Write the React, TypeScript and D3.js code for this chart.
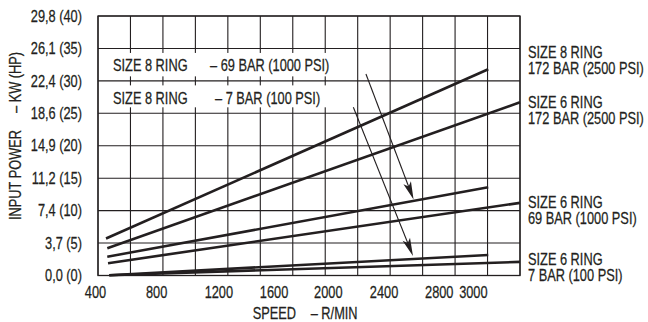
import React from 'react';
import * as d3 from 'd3';

// ---------- data ----------
const hpTicks = [0, 5, 10, 15, 20, 25, 30, 35, 40];
const yTickLabels = ['0,0 (0)', '3,7 (5)', '7,4 (10)', '11,2 (15)', '14,9 (20)', '18,6 (25)', '22,4 (30)', '26,1 (35)', '29,8 (40)'];
const rpmTicks = [400, 800, 1200, 1600, 2000, 2400, 2800, 3000];
const rpmTickLabels = ['400', '800', '1200', '1600', '2000', '2400', '2800', '3000'];

// each series: speed (r/min) and input power (HP) at the two ends of the straight line
const size8Bar172Rpm = [446, 3118];
const size8Bar172Hp = [5.7, 31.8];
const size6Bar172Rpm = [455, 3340];
const size6Bar172Hp = [4.2, 26.7];
const size8Bar69Rpm = [455, 3118];
const size8Bar69Hp = [2.9, 13.6];
const size6Bar69Rpm = [460, 3340];
const size6Bar69Hp = [1.9, 11.2];
const size8Bar7Rpm = [469, 3118];
const size8Bar7Hp = [0.05, 3.15];
const size6Bar7Rpm = [469, 3340];
const size6Bar7Hp = [0.05, 2.1];

const seriesRpm = [size8Bar172Rpm, size6Bar172Rpm, size8Bar69Rpm, size6Bar69Rpm, size8Bar7Rpm, size6Bar7Rpm];
const seriesHp = [size8Bar172Hp, size6Bar172Hp, size8Bar69Hp, size6Bar69Hp, size8Bar7Hp, size6Bar7Hp];

// arrows (r/min, HP): from -> to
const arrowFromRpm = [2263, 2175];
const arrowFromHp = [31.06, 25.93];
const arrowToRpm = [2596, 2592];
const arrowToHp = [11.7, 3.0];

const rightLabels = [
  ['SIZE 8 RING', '172 BAR (2500 PSI)'],
  ['SIZE 6 RING', '172 BAR (2500 PSI)'],
  ['SIZE 6 RING', '69 BAR (1000 PSI)'],
  ['SIZE 6 RING', '7 BAR (100 PSI)'],
];
const legendLeft = ['SIZE 8 RING', 'SIZE 8 RING'];
const legendRight = ['\u2013 69 BAR (1000 PSI)', '\u2013 7 BAR (100 PSI)'];

// ---------- layout ----------
const W = 648;
const H = 322;
const X0 = 98, X1 = 520, Y0 = 16, Y1 = 275.5;
const nCols = 13;
const rightLabelCenters = [[52, 68], [102, 118], [202, 218], [259, 275.5]];
const legendCenters = [65, 98.3];
const legendRightX = [210, 215];
const tickLabelNudge = [-4, 0, 5, 3, 0, -1.5, -3.5, 2];
const FONT = "'Liberation Sans', Arial, sans-serif";
const FS = 16;
const SX = 0.8; // condensed look
const INK = '#231f20';
const capHalf = FS * 0.358;

type NProps = { x: number; y: number; anchor?: 'start' | 'middle' | 'end'; rotate?: number; children: React.ReactNode };
function NText({ x, y, anchor = 'start', rotate = 0, children }: NProps) {
  return (
    <g transform={`translate(${x},${y}) rotate(${rotate}) scale(${SX},1)`}>
      <text x={0} y={0} textAnchor={anchor} stroke={INK} strokeWidth={0.25}>{children}</text>
    </g>
  );
}

export default function App() {
  const x = d3.scaleLinear().domain([390, 3340]).range([X0, X1]);
  const y = d3.scaleLinear().domain([0, 40]).range([Y1, Y0]);
  const line = d3.line<[number, number]>().x(d => x(d[0])).y(d => y(d[1]));

  const colXs = d3.range(nCols + 1).map(i => X0 + (i * (X1 - X0)) / nCols);

  const arrows = arrowFromRpm.map((_, i) => {
    const x0 = x(arrowFromRpm[i]), y0 = y(arrowFromHp[i]);
    const x1 = x(arrowToRpm[i]), y1 = y(arrowToHp[i]);
    const dx = x1 - x0, dy = y1 - y0;
    const len = Math.hypot(dx, dy);
    const ux = dx / len, uy = dy / len;
    const L = 18, hw = 4;
    const bx = x1 - ux * L, by = y1 - uy * L;
    const nx = -uy, ny = ux;
    const head = `M${x1},${y1} L${bx + nx * hw},${by + ny * hw} L${x1 - ux * (L - 4)},${y1 - uy * (L - 4)} L${bx - nx * hw},${by - ny * hw} Z`;
    return { x0, y0, sx: x1 - ux * 6, sy: y1 - uy * 6, head };
  });

  return (
    <svg width={W} height={H} style={{ position: 'absolute', left: 0, top: 0, display: 'block', background: '#fff' }}
      fontFamily={FONT} fontSize={FS} fill={INK}>
      <rect x={0} y={0} width={W} height={H} fill="#fff" />
      {/* vertical grid */}
      {colXs.map((cx, i) => (
        <line key={'v' + i} x1={cx} x2={cx} y1={Y0} y2={Y1} stroke={INK} strokeWidth={1.1} />
      ))}
      {/* white backing for the in-plot legend */}
      <rect x={X0 + 1} y={y(35) + 4.5} width={240} height={y(30) - y(35) - 9} fill="#fff" />
      <rect x={X0 + 1} y={y(30) + 4.5} width={240} height={y(25) - y(30) - 10.5} fill="#fff" />
      {/* horizontal grid */}
      {hpTicks.map(t => (
        <line key={'h' + t} x1={X0} x2={X1} y1={y(t)} y2={y(t)} stroke={INK} strokeWidth={1.1} />
      ))}
      <rect x={X0} y={Y0} width={X1 - X0} height={Y1 - Y0} fill="none" stroke={INK} strokeWidth={1.3} />

      {/* series */}
      {seriesRpm.map((r, i) => (
        <path key={'s' + i} d={line(r.map((v, j) => [v, seriesHp[i][j]]) as [number, number][]) || ''}
          fill="none" stroke={INK} strokeWidth={2.6} />
      ))}

      {/* arrows */}
      {arrows.map((a, i) => (
        <g key={'a' + i}>
          <line x1={a.x0} y1={a.y0} x2={a.sx} y2={a.sy} stroke={INK} strokeWidth={1.1} />
          <path d={a.head} fill={INK} stroke="none" />
        </g>
      ))}

      {/* y tick labels */}
      {hpTicks.map((t, i) => (
        <NText key={'yl' + t} x={82} y={y(t) + capHalf} anchor="end">{yTickLabels[i]}</NText>
      ))}
      {/* x tick labels */}
      {rpmTicks.map((t, i) => (
        <NText key={'xl' + t} x={x(t) + tickLabelNudge[i]} y={292.7 + capHalf} anchor="middle">{rpmTickLabels[i]}</NText>
      ))}

      {/* axis titles */}
      <NText x={15.5 + capHalf} y={220} rotate={-90}>INPUT POWER</NText>
      <NText x={15.5 + capHalf} y={113} rotate={-90}>{'\u2013 KW (HP)'}</NText>
      <NText x={252.7} y={313 + capHalf}>SPEED</NText>
      <NText x={310.7} y={313 + capHalf}>{'\u2013 R/MIN'}</NText>

      {/* in-plot legend */}
      {legendLeft.map((t, i) => (
        <g key={'lg' + i}>
          <NText x={113} y={legendCenters[i] + capHalf}>{t}</NText>
          <NText x={legendRightX[i]} y={legendCenters[i] + capHalf}>{legendRight[i]}</NText>
        </g>
      ))}

      {/* right labels */}
      {rightLabels.map((pair, i) => (
        <g key={'rl' + i}>
          {pair.map((t, j) => (
            <NText key={j} x={528} y={rightLabelCenters[i][j] + capHalf}>{t}</NText>
          ))}
        </g>
      ))}
    </svg>
  );
}
